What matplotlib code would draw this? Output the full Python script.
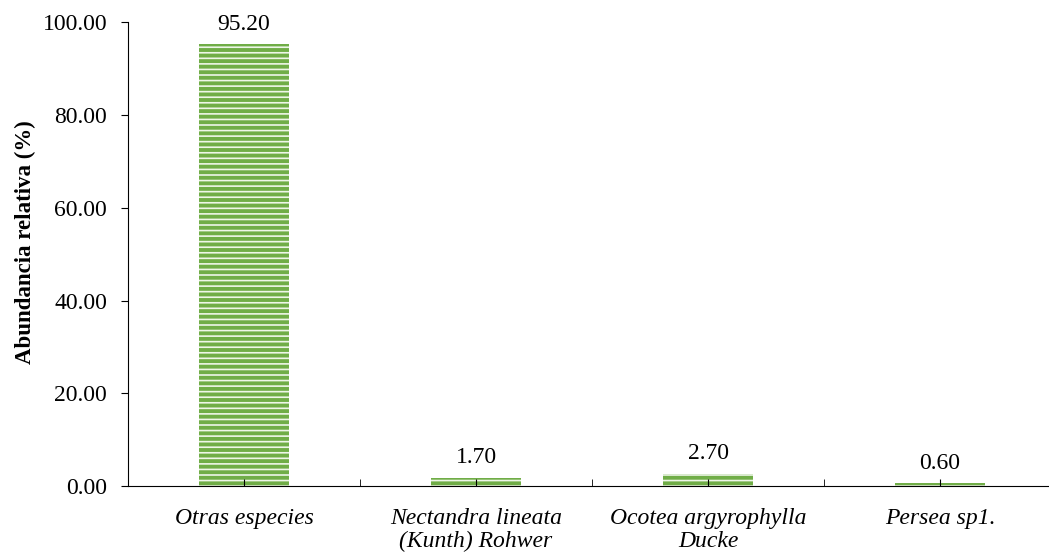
import matplotlib
matplotlib.use('Agg')
import matplotlib.pyplot as plt
import numpy as np

# datos de abundancia relativa
especies = ['Otras especies', 'Nectandra lineata\n(Kunth) Rohwer',
            'Ocotea argyrophylla\nDucke', 'Persea sp1.']
abundancia = [95.20, 1.70, 2.70, 0.60]

plt.rcParams['font.family'] = ['Liberation Serif', 'DejaVu Serif']
plt.rcParams['hatch.linewidth'] = 1.2

fig = plt.figure(figsize=(10.49, 5.54), dpi=100)
# el eje x sale un poco del borde derecho, como en el original
ax = fig.add_axes([0.122, 0.1226, 0.8847, 0.8374])

x = np.arange(len(especies))
bars = ax.bar(x, abundancia, width=0.384, color='#70AD47', hatch='---',
              edgecolor='#EEF6E8', linewidth=0)

for xi, v in zip(x, abundancia):
    ax.annotate('%.2f' % v, (xi, v), xytext=(0, 7), textcoords='offset points',
                ha='center', va='bottom', fontsize=17)

ax.set_xlim(-0.5, len(especies) - 0.5)
ax.set_ylim(0, 100)
ax.set_yticks(np.arange(0, 101, 20))
ax.set_yticklabels(['%.2f' % t for t in np.arange(0, 101, 20)], fontsize=17)
ax.set_xticks(x)
ax.set_xticklabels(especies, fontsize=17, style='italic', linespacing=1.1)
ax.set_xticks(np.arange(0.5, len(especies) - 1, 1), minor=True)
ax.tick_params(axis='x', which='both', direction='in', length=5, pad=16)
ax.tick_params(axis='y', direction='out', length=5, pad=10)

ax.spines['top'].set_visible(False)
ax.spines['right'].set_visible(False)

ax.set_ylabel('Abundancia relativa (%)', fontsize=16.5, fontweight='bold')
ax.yaxis.set_label_coords(-0.099, 0.525)

plt.savefig('out.png', dpi=100)
plt.close()
